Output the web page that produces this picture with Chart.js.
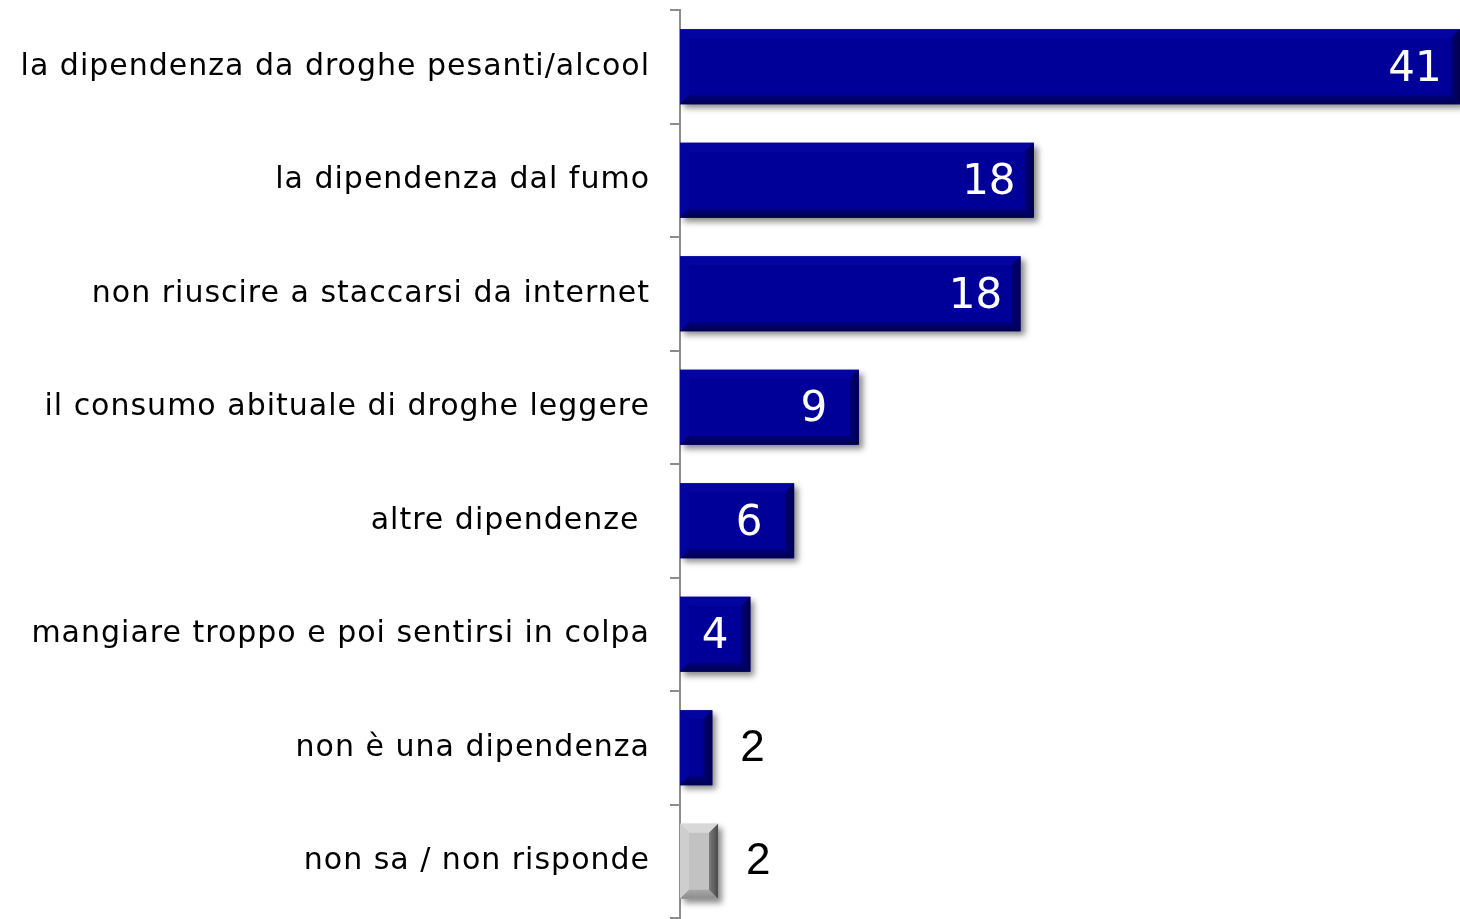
<!DOCTYPE html>
<html lang="it">
<head>
<meta charset="utf-8">
<title>Dipendenze</title>
<script src="https://cdn.jsdelivr.net/npm/chart.js@4.4.1/dist/chart.umd.min.js"></script>
<style>
  html, body { margin: 0; padding: 0; background: #fff; }
  #wrap { width: 1460px; height: 919px; }
</style>
</head>
<body>
<div id="wrap"><canvas id="graficoDipendenze" width="1460" height="919"></canvas></div>
<script>
// dati
const categorie = [
    'la dipendenza da droghe pesanti/alcool',
    'la dipendenza dal fumo',
    'non riuscire a staccarsi da internet',
    'il consumo abituale di droghe leggere',
    'altre dipendenze ',
    'mangiare troppo e poi sentirsi in colpa',
    'non è una dipendenza',
    'non sa / non risponde'
];
const valori = [41, 18.6, 17.9, 9.4, 6.0, 3.7, 1.7, 2.0];
const etichette = ['41', '18', '18', '9', '6', '4', '2', '2'];
const coloriBarre = ['#000099', '#000099', '#000099', '#000099', '#000099', '#000099', '#000099', '#c2c2c2'];

// spaziatura lettere per avvicinarsi al Century Gothic
const spaziaturaPlugin = {
    id: 'spaziatura',
    beforeDraw(chart) { chart.ctx.letterSpacing = '1px'; },
    afterDraw(chart) { chart.ctx.letterSpacing = '0px'; }
};

// ombra sotto le barre
const ombraPlugin = {
    id: 'ombra',
    beforeDatasetsDraw(chart) {
        const ctx = chart.ctx;
        ctx.save();
        ctx.letterSpacing = '0px';
        ctx.shadowColor = 'rgba(0,0,0,0.45)';
        ctx.shadowBlur = 6;
        ctx.shadowOffsetX = 4;
        ctx.shadowOffsetY = 4;
    },
    afterDatasetsDraw(chart) {
        chart.ctx.restore();
    }
};

// effetto rilievo + etichette dei valori
const rilievoPlugin = {
    id: 'rilievo',
    afterDatasetsDraw(chart) {
        const ctx = chart.ctx;
        const meta = chart.getDatasetMeta(0);
        meta.data.forEach((bar, i) => {
            const p = bar.getProps(['x', 'y', 'base', 'height'], true);
            const left = Math.min(p.base, p.x), right = Math.max(p.base, p.x);
            const top = p.y - p.height / 2, bottom = p.y + p.height / 2;
            const b = Math.min(9, (right - left) / 3);
            const grigio = coloriBarre[i] !== '#000099';
            const col = grigio
                ? { top: '#d8d8d8', left: '#cecece', right: '#4a4a4a', bottom: '#8c8c8c' }
                : { top: '#0404a0', left: '#03039d', right: '#00004a', bottom: '#00004e' };
            const poly = (pts, c) => {
                ctx.beginPath();
                ctx.moveTo(pts[0][0], pts[0][1]);
                pts.slice(1).forEach(q => ctx.lineTo(q[0], q[1]));
                ctx.closePath();
                ctx.fillStyle = c;
                ctx.fill();
            };
            ctx.save();
            ctx.letterSpacing = '0px';
            poly([[left, top], [right, top], [right - b, top + b], [left + b, top + b]], col.top);
            poly([[left, top], [left + b, top + b], [left + b, bottom - b], [left, bottom]], col.left);
            const gb = ctx.createLinearGradient(0, bottom - b, 0, bottom);
            gb.addColorStop(0, grigio ? '#a8a8a8' : '#00007c');
            gb.addColorStop(1, col.bottom);
            poly([[left, bottom], [right, bottom], [right - b, bottom - b], [left + b, bottom - b]], gb);
            const gr = ctx.createLinearGradient(right - b, 0, right, 0);
            gr.addColorStop(0, grigio ? '#7a7a7a' : '#000078');
            gr.addColorStop(1, col.right);
            poly([[right, top], [right, bottom], [right - b, bottom - b], [right - b, top + b]], gr);

            // etichetta valore
            ctx.textBaseline = 'middle';
            if (valori[i] > 3) {
                const centro = Math.max((left + right) / 2, right - 45);
                ctx.font = '42px "DejaVu Sans"';
                ctx.fillStyle = '#ffffff';
                ctx.textAlign = 'center';
                ctx.fillText(etichette[i], centro, p.y + 3);
            } else {
                ctx.font = '44px "Liberation Sans"';
                ctx.fillStyle = '#000000';
                ctx.textAlign = 'left';
                ctx.fillText(etichette[i], right + 28, p.y + 1);
            }
            ctx.restore();
        });
    }
};

const ctx = document.getElementById('graficoDipendenze').getContext('2d');
new Chart(ctx, {
    type: 'bar',
    data: {
        labels: categorie,
        datasets: [{
            data: valori,
            backgroundColor: coloriBarre,
            borderWidth: 0,
            categoryPercentage: 1,
            barPercentage: 0.66
        }]
    },
    options: {
        indexAxis: 'y',
        responsive: false,
        animation: false,
        layout: { padding: { top: 10, bottom: 1, left: 0, right: 0 } },
        plugins: {
            legend: { display: false },
            tooltip: { enabled: false }
        },
        scales: {
            x: { display: false, min: 0, max: 41 },
            y: {
                afterFit(scale) {
                    scale.width = 680;
                    scale.paddingTop = 0;
                    scale.paddingBottom = 0;
                },
                grid: {
                    display: true,
                    drawOnChartArea: false,
                    drawTicks: true,
                    tickLength: 10,
                    color: '#8c8c8c',
                    lineWidth: 2,
                    offset: true
                },
                border: { display: true, color: '#8c8c8c', width: 2 },
                ticks: {
                    padding: 20,
                    color: '#000',
                    font: { family: '"DejaVu Sans"', size: 30 }
                }
            }
        }
    },
    plugins: [spaziaturaPlugin, ombraPlugin, rilievoPlugin]
});
</script>
</body>
</html>
